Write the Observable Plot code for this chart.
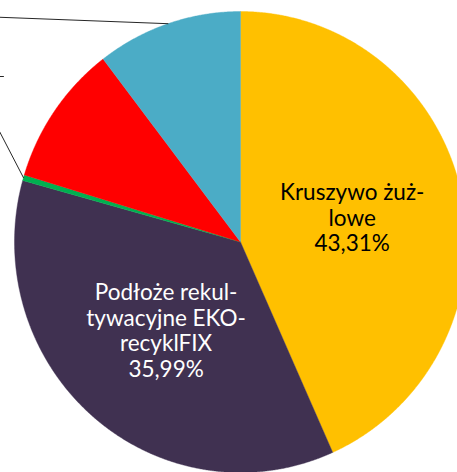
<!DOCTYPE html>
<html>
<head>
<meta charset="utf-8">
<script src="https://cdn.jsdelivr.net/npm/d3@7"></script>
<script src="https://cdn.jsdelivr.net/npm/@observablehq/plot@0.6"></script>
<style>
  html, body { margin: 0; padding: 0; background: #fff; overflow: hidden; }
  #chart { width: 457px; height: 472px; overflow: hidden; }
</style>
</head>
<body>
<div id="chart"></div>
<script>
// ---- data ----
const names = ["Kruszywo żużlowe", "Podłoże rekultywacyjne EKO-recyklFIX", "Pozostałe 1", "Pozostałe 2", "Pozostałe 3"];
const values = [43.31, 35.99, 0.4, 9.9, 10.4];
const colors = ["#FFC000", "#403151", "#00B050", "#FF0000", "#4BACC6"];
const labelLines = [["Kruszywo żuż-", "lowe"], ["Podłoże rekul-", "tywacyjne EKO-", "recyklFIX"], null, null, null];
const labelColors = ["#000000", "#ffffff", null, null, null];

// ---- layout ----
const W = 457, H = 472;
const cx = 240, cy = 241.5, rx = 226, ry = 230.5;
const labelR = 0.505;

const total = d3.sum(values);
let acc = 0;
const slices = values.map((v, i) => {
  const a0 = acc / total * 2 * Math.PI;
  acc += v;
  const a1 = acc / total * 2 * Math.PI;
  return {name: names[i], value: v, a0, a1, mid: (a0 + a1) / 2, i};
});

// polygon points for each slice (unit circle, angle clockwise from top)
const pts = [];
for (const s of slices) {
  pts.push({name: s.name, x: 0, y: 0});
  const n = Math.max(2, Math.ceil((s.a1 - s.a0) / (Math.PI / 720)));
  for (let k = 0; k <= n; k++) {
    const a = s.a0 + (s.a1 - s.a0) * k / n;
    pts.push({name: s.name, x: Math.sin(a), y: Math.cos(a)});
  }
  pts.push({name: s.name, x: 0, y: 0});
}

const fmt = v => v.toFixed(2).replace(".", ",") + "%";
const labels = slices.filter(s => labelLines[s.i]).map(s => ({
  x: labelR * Math.sin(s.mid),
  y: labelR * Math.cos(s.mid),
  text: [...labelLines[s.i], fmt(s.value)].join("\n"),
  color: labelColors[s.i]
}));

// leader lines (towards labels lying outside the visible area)
const edge = s => ({x: Math.sin(s.mid), y: Math.cos(s.mid)});
const leaders = [
  {id: "g", pts: [edge(slices[2]), {x: -1.106, y: 0.5545}]},
  {id: "r", pts: [{x: -1.0487, y: 0.718}, {x: -1.2, y: 0.718}]},
  {id: "b", pts: [edge(slices[4]), {x: -1.2, y: 0.98}]}
].flatMap(l => l.pts.map(p => ({...p, id: l.id})));

const chart = Plot.plot({
  width: W,
  height: H,
  margin: 0,
  style: {fontFamily: "Lato, sans-serif", background: "white"},
  x: {domain: [-cx / rx, (W - cx) / rx], axis: null},
  y: {domain: [-(H - cy) / ry, cy / ry], axis: null},
  color: {type: "ordinal", domain: names, range: colors},
  marks: [
    Plot.line(pts, {x: "x", y: "y", z: "name", fill: "name", stroke: "name", strokeWidth: 0.4, curve: "linear"}),
    Plot.line(leaders, {x: "x", y: "y", z: "id", stroke: "#262626", strokeWidth: 1}),
    Plot.text(labels, {x: "x", y: "y", text: "text", fill: "color", fontSize: 22.5, lineHeight: 1.135, textAnchor: "middle"})
  ]
});
document.getElementById("chart").appendChild(chart);
</script>
</body>
</html>
